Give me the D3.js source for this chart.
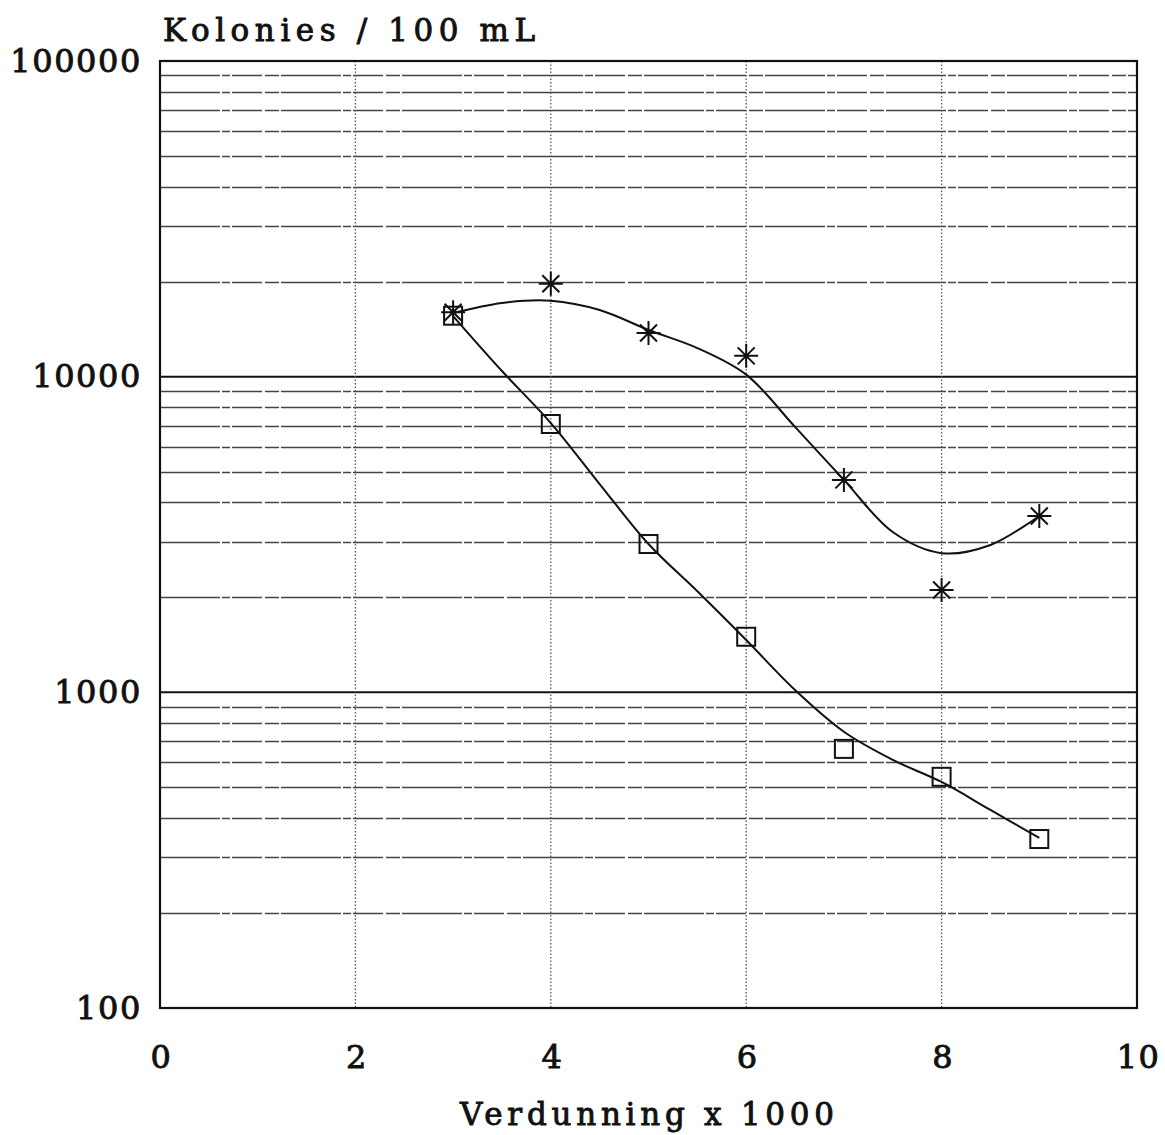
<!DOCTYPE html>
<html>
<head>
<meta charset="utf-8">
<script src="https://cdn.jsdelivr.net/npm/d3@7"></script>
<style>
  html, body { margin: 0; padding: 0; background: #fff; }
  svg text { font-family: "DejaVu Serif", "Liberation Serif", serif; font-weight: normal; fill: #111; stroke: #111; stroke-width: 0.9px; }
</style>
</head>
<body>
<svg id="chart" width="1165" height="1135"></svg>
<script>
// ---- data ----
const dilution = [3, 4, 5, 6, 7, 8, 9];
const squareValues = [15600, 7080, 2950, 1500, 662, 540, 343];
const starValues = [16000, 19700, 13750, 11640, 4710, 2110, 3620];
// smoothed trend curves as drawn in the original
const curveX = [3, 3.5, 4, 4.5, 5, 5.5, 6, 6.5, 7, 7.5, 8, 8.5, 9];
const squareCurve = [15560, 10420, 7130, 4570, 2950, 2090, 1465, 1017, 750, 611, 520, 424, 346];
const starCurve = [15900, 17120, 17400, 16260, 14060, 12320, 10150, 6930, 4710, 3220, 2760, 2930, 3620];
const xTickValues = [0, 2, 4, 6, 8, 10];
const yTickValues = [100, 1000, 10000, 100000];
const yTitle = "Kolonies / 100 mL";
const xTitle = "Verdunning x 1000";

// ---- layout ----
const svg = d3.select("#chart");
const L = 160, R = 1137, T = 61, B = 1008;

const x = d3.scaleLinear().domain([0, 10]).range([L, R]);
const y = d3.scaleLog().domain([100, 100000]).range([B, T]);

// minor horizontal grid
const minor = [];
[100, 1000, 10000].forEach(d => { for (let k = 2; k <= 9; k++) minor.push(k * d); });
svg.append("g").selectAll("line").data(minor).join("line")
  .attr("x1", L).attr("x2", R)
  .attr("y1", d => Math.round(y(d)) + 0.5).attr("y2", d => Math.round(y(d)) + 0.5)
  .attr("stroke", "#444").attr("stroke-width", 1.3)
  .attr("stroke-dasharray", "60,2,8,2,30,3,14,2");

// major horizontal grid
svg.append("g").selectAll("line").data([1000, 10000]).join("line")
  .attr("x1", L).attr("x2", R)
  .attr("y1", d => y(d)).attr("y2", d => y(d))
  .attr("stroke", "#111").attr("stroke-width", 2);

// vertical grid (dotted)
svg.append("g").selectAll("line").data([2, 4, 6, 8]).join("line")
  .attr("x1", d => x(d)).attr("x2", d => x(d))
  .attr("y1", T).attr("y2", B)
  .attr("stroke", "#555").attr("stroke-width", 1.3)
  .attr("stroke-dasharray", "1.5,2");

// frame
svg.append("rect").attr("x", L).attr("y", T).attr("width", R - L).attr("height", B - T)
  .attr("fill", "none").attr("stroke", "#111").attr("stroke-width", 2.2);

// axes labels via d3 axes
const xAxis = svg.append("g").attr("transform", `translate(0,${B})`)
  .call(d3.axisBottom(x).tickValues(xTickValues).tickFormat(d3.format("d")).tickSize(0).tickPadding(37));
xAxis.select(".domain").remove();
xAxis.selectAll("text").attr("font-size", 32).attr("fill", "#111")
  .style("font-family", "DejaVu Serif").attr("letter-spacing", "1.5px").attr("dx", "1px");

const yAxis = svg.append("g").attr("transform", `translate(${L},0)`)
  .call(d3.axisLeft(y).tickValues(yTickValues).tickFormat(d3.format("d")).tickSize(0).tickPadding(18));
yAxis.select(".domain").remove();
yAxis.selectAll("text").attr("font-size", 32).attr("fill", "#111")
  .style("font-family", "DejaVu Serif").attr("letter-spacing", "1.6px");

// titles
svg.append("text").attr("x", 163).attr("y", 41).attr("font-size", 31)
  .attr("textLength", 372).attr("lengthAdjust", "spacing").text(yTitle);
svg.append("text").attr("x", 460).attr("y", 1125).attr("font-size", 31)
  .attr("textLength", 374).attr("lengthAdjust", "spacing").text(xTitle);

// trend curves
const line = d3.line().x(d => x(d[0])).y(d => y(d[1])).curve(d3.curveCatmullRom.alpha(0.5));
[squareCurve, starCurve].forEach(c => {
  svg.append("path").datum(curveX.map((t, i) => [t, c[i]]))
    .attr("d", line)
    .attr("fill", "none").attr("stroke", "#111").attr("stroke-width", 2);
});

// square markers
svg.append("g").selectAll("rect").data(dilution.map((d, i) => [d, squareValues[i]])).join("rect")
  .attr("x", d => x(d[0]) - 9).attr("y", d => y(d[1]) - 9)
  .attr("width", 18).attr("height", 18)
  .attr("fill", "none").attr("stroke", "#111").attr("stroke-width", 2);

// star markers
const s = 12, sd = 8.5;
const starPath = `M${-s},0L${s},0M0,${-s}L0,${s}M${-sd},${-sd}L${sd},${sd}M${-sd},${sd}L${sd},${-sd}`;
svg.append("g").selectAll("path").data(dilution.map((d, i) => [d, starValues[i]])).join("path")
  .attr("transform", d => `translate(${x(d[0])},${y(d[1])})`)
  .attr("d", starPath)
  .attr("fill", "none").attr("stroke", "#111").attr("stroke-width", 2);
</script>
</body>
</html>
